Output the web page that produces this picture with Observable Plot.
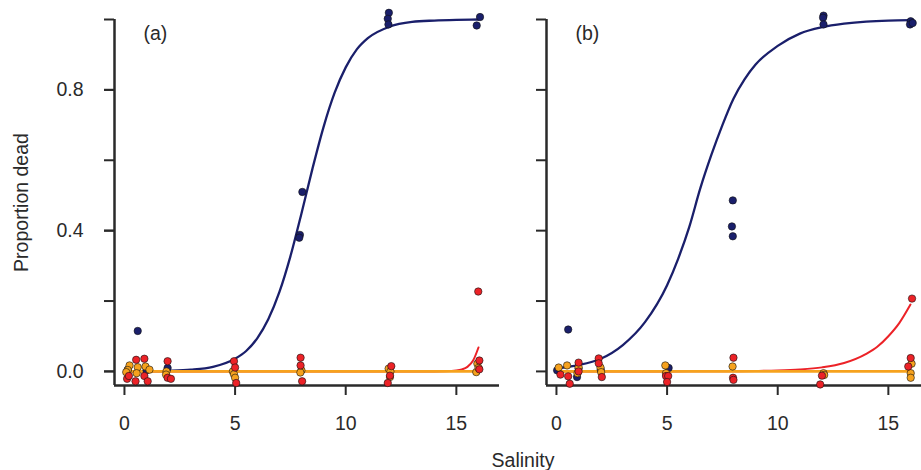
<!DOCTYPE html>
<html><head><meta charset="utf-8">
<script src="https://cdn.jsdelivr.net/npm/d3@7"></script>
<script src="https://cdn.jsdelivr.net/npm/@observablehq/plot@0.6"></script>
<style>html,body{margin:0;padding:0;background:#fff;overflow:hidden;}</style>
</head><body><div id="chart"></div>
<script>
// ---------- data ----------
const panels = ["a", "b"];
const panelLabels = ["(a)", "(b)"];
const groups = ["S1", "S2", "S3"];
const xTicks = [0, 5, 10, 15];
const yMinorTicks = [0, 0.2, 0.4, 0.6, 0.8, 1.0];
const yLabelTicks = [0, 0.4, 0.8];

// panel (a) points
const aS1X = [0.15, 0.6, 1.0, 1.95, 7.93, 7.9, 8.04, 11.95, 11.9, 11.93, 16.07, 15.92];
const aS1Y = [0.005, 0.115, 0.003, 0.01, 0.388, 0.38, 0.51, 1.019, 1.002, 0.986, 1.007, 0.983];
const aS2X = [0.12, 0.2, 0.53, 0.5, 0.9, 0.9, 1.05, 1.95, 1.95, 2.1, 4.95, 5.0, 5.05, 7.96, 7.96, 8.03, 12.06, 12.0, 11.9, 16.04, 16.04, 15.99];
const aS2Y = [-0.021, -0.013, 0.033, -0.028, 0.036, -0.013, -0.028, 0.029, -0.018, -0.021, 0.029, 0.011, -0.033, 0.039, 0.017, -0.028, 0.015, -0.012, -0.033, 0.031, 0.006, 0.227];
const aS3X = [0.23, 0.15, 0.08, 0.6, 0.55, 0.95, 1.13, 1.9, 1.88, 4.9, 4.95, 5.0, 8.0, 7.95, 11.94, 12.0, 12.02, 15.95, 15.9, 16.0];
const aS3Y = [0.017, 0.004, -0.002, 0.012, -0.005, 0.014, 0.005, 0.0, -0.009, 0.0, -0.008, -0.018, 0.003, -0.003, 0.008, -0.016, 0.0, 0.022, -0.002, 0.01];

// panel (b) points
const bS1X = [0.03, 0.53, 0.93, 1.0, 2.0, 5.07, 7.97, 7.93, 7.97, 12.07, 12.05, 12.07, 16.01, 15.98, 16.1];
const bS1Y = [0.003, 0.119, -0.016, 0.008, 0.005, 0.01, 0.486, 0.412, 0.384, 1.011, 1.005, 0.986, 0.995, 0.986, 0.99];
const bS2X = [0.18, 0.53, 0.6, 1.0, 1.0, 1.91, 1.91, 2.05, 4.95, 5.05, 5.0, 8.0, 7.98, 8.0, 12.0, 11.92, 16.07, 16.01, 15.9];
const bS2Y = [-0.009, -0.014, -0.035, 0.025, 0.0, 0.037, 0.023, -0.016, -0.013, -0.013, -0.03, 0.039, -0.018, -0.024, -0.012, -0.037, 0.207, 0.038, 0.014];
const bS3X = [0.1, 0.48, 0.95, 1.0, 1.99, 2.02, 4.92, 4.95, 7.96, 12.07, 12.1, 16.05, 16.01, 16.01];
const bS3Y = [0.011, 0.017, -0.005, 0.012, 0.011, -0.002, 0.017, -0.005, 0.014, -0.005, -0.01, 0.022, -0.005, -0.018];

// fitted curves
const aS1CurveX = [0, 1, 2, 3, 4, 5, 5.5, 6, 6.5, 7, 7.5, 8, 8.5, 9, 9.5, 10, 10.5, 11, 12, 13, 14, 15, 16];
const aS1CurveY = [0.0002, 0.0006, 0.0017, 0.0047, 0.013, 0.036, 0.058, 0.094, 0.148, 0.225, 0.327, 0.449, 0.577, 0.695, 0.792, 0.864, 0.915, 0.947, 0.980, 0.993, 0.997, 0.999, 1.0];
const aS2CurveX = [0, 4, 8, 12, 13, 14, 14.5, 15, 15.25, 15.5, 15.75, 16];
const aS2CurveY = [0, 0, 0, 0, 0, 0.0001, 0.0005, 0.0025, 0.0057, 0.013, 0.03, 0.068];
const aS3CurveX = [0, 16];
const aS3CurveY = [0, 0];
const bS1CurveX = [0, 1, 2, 3, 4, 5, 5.5, 6, 6.5, 7, 7.5, 8, 8.5, 9, 10, 11, 12, 13, 14, 15, 16];
const bS1CurveY = [0.009, 0.018, 0.036, 0.075, 0.14, 0.245, 0.32, 0.41, 0.52, 0.615, 0.70, 0.775, 0.83, 0.872, 0.925, 0.96, 0.978, 0.988, 0.994, 0.997, 0.998];
const bS2CurveX = [0, 4, 6, 8, 9, 10, 11, 12, 13, 14, 14.5, 15, 15.5, 16];
const bS2CurveY = [0, 0.0001, 0.0002, 0.0006, 0.0013, 0.0026, 0.0055, 0.0115, 0.024, 0.05, 0.07, 0.10, 0.138, 0.19];
const bS3CurveX = [0, 16];
const bS3CurveY = [0, 0];

// ---------- build tables ----------
const rows = (panel, group, xs, ys) => xs.map((x, i) => ({panel, group, salinity: x, dead: ys[i]}));
const points = [
  ...rows("a", "S1", aS1X, aS1Y), ...rows("b", "S1", bS1X, bS1Y),
  ...rows("a", "S3", aS3X, aS3Y), ...rows("b", "S3", bS3X, bS3Y),
  ...rows("a", "S2", aS2X, aS2Y), ...rows("b", "S2", bS2X, bS2Y)
];
const curves = [
  ...rows("a", "S1", aS1CurveX, aS1CurveY), ...rows("b", "S1", bS1CurveX, bS1CurveY),
  ...rows("a", "S2", aS2CurveX, aS2CurveY), ...rows("b", "S2", bS2CurveX, bS2CurveY),
  ...rows("a", "S3", aS3CurveX, aS3CurveY), ...rows("b", "S3", bS3CurveX, bS3CurveY)
];
const colorRange = ["#1a1f6b", "#ec2227", "#f6a21e"];
const xDomain = [-0.45, 16.95];
const yDomain = [-0.04, 1.0];

const chart = Plot.plot({
  width: 932, height: 470,
  marginLeft: 113, marginRight: 0, marginTop: 19, marginBottom: 85,
  style: {fontFamily: "'Liberation Sans', Arial, sans-serif", fontSize: "19.5px", color: "#2a2a2a", maxWidth: "none", background: "#fff"},
  fx: {domain: panels, paddingInner: 0.1085, paddingOuter: 0},
  x: {domain: xDomain},
  y: {domain: yDomain},
  color: {domain: groups, range: colorRange},
  marks: [
    Plot.axisFx({anchor: "bottom", tickSize: 0, tickFormat: () => "", label: "Salinity", labelAnchor: "center", labelArrow: false, labelOffset: 81}),
    Plot.axisX({ticks: xTicks, tickSize: 10, tickPadding: 21, tickFormat: d => String(d), strokeWidth: 2, label: null}),
    Plot.axisY({ticks: yMinorTicks, tickSize: 10, tickFormat: () => "", label: null, facetAnchor: null, strokeWidth: 2}),
    Plot.axisY({ticks: yLabelTicks, tickSize: 10, tickPadding: 21, tickFormat: d3.format(".1f"), strokeWidth: 2, label: "Proportion dead", labelAnchor: "center", labelArrow: false, labelOffset: 100}),
    Plot.ruleY([yDomain[0]], {strokeWidth: 2.5}),
    Plot.ruleX([xDomain[0]], {strokeWidth: 2.5}),
    Plot.line(curves.filter(d => d.group === "S1"), {fx: "panel", x: "salinity", y: "dead", z: "panel", stroke: "group", strokeWidth: 2.3, curve: "monotone-x"}),
    Plot.line(curves.filter(d => d.group === "S2"), {fx: "panel", x: "salinity", y: "dead", z: "panel", stroke: "group", strokeWidth: 2, curve: "monotone-x"}),
    Plot.line(curves.filter(d => d.group === "S3"), {fx: "panel", x: "salinity", y: "dead", z: "panel", stroke: "group", strokeWidth: 2.8, curve: "monotone-x"}),
    Plot.dot(points, {fx: "panel", x: "salinity", y: "dead", fill: "group", stroke: "#111", strokeWidth: 0.6, r: 3.7}),
    Plot.text(panels, {fx: d => d, text: (d, i) => panelLabels[i], frameAnchor: "top-left", dx: 29, dy: 14, lineAnchor: "middle", textAnchor: "start", fill: "#2a2a2a"})
  ]
});
document.getElementById("chart").appendChild(chart);
</script>
</body></html>
